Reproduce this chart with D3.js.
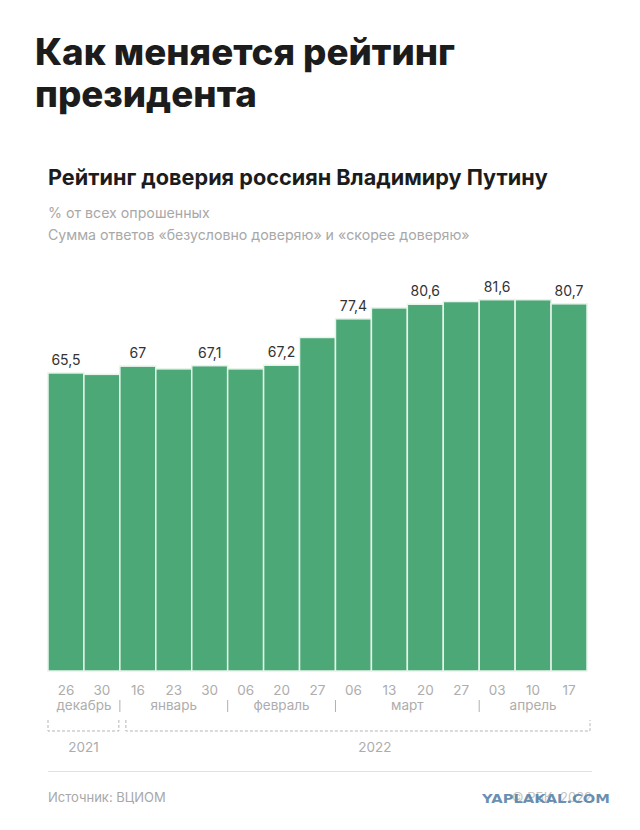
<!DOCTYPE html>
<html><head><meta charset="utf-8">
<script src="https://cdn.jsdelivr.net/npm/d3@7"></script>
<style>html,body{margin:0;padding:0;background:#fff;} svg{display:block;}</style>
</head><body>
<svg id="c" width="640" height="830"></svg>
<script>
// ---- data ----
const days = ["26","30","16","23","30","06","20","27","06","13","20","27","03","10","17"];
const months = ["декабрь","декабрь","январь","январь","январь","февраль","февраль","февраль","март","март","март","март","апрель","апрель","апрель"];
const years = ["2021","2021","2022","2022","2022","2022","2022","2022","2022","2022","2022","2022","2022","2022","2022"];
const values = [65.5, 65.2, 67.0, 66.4, 67.1, 66.4, 67.2, 73.3, 77.4, 79.8, 80.6, 81.2, 81.6, 81.6, 80.7];
const labeled = [true,false,true,false,true,false,true,false,true,false,true,false,true,false,true];

const svg = d3.select("#c");
const F = "Inter, 'Noto Sans', sans-serif";

function fitText(sel, w){
  const cur = sel.node().getComputedTextLength();
  const fs = parseFloat(sel.attr("font-size"));
  sel.attr("font-size", fs * w / cur);
}

// titles
const t1 = svg.append("text").attr("x",35).attr("y",65).attr("font-family",F).attr("font-weight",800)
  .attr("font-size",34).attr("fill","#1c1c1c").text("Как меняется рейтинг");
fitText(t1, 420);
const t2 = svg.append("text").attr("x",35).attr("y",107).attr("font-family",F).attr("font-weight",800)
  .attr("font-size",t1.attr("font-size")).attr("fill","#1c1c1c").text("президента");
const st = svg.append("text").attr("x",48).attr("y",185).attr("font-family",F).attr("font-weight",700)
  .attr("font-size",20).attr("fill","#1c1c1c").text("Рейтинг доверия россиян Владимиру Путину");
fitText(st, 500);
const s1 = svg.append("text").attr("x",48).attr("y",218).attr("font-family",F).attr("font-weight",400)
  .attr("font-size",13).attr("fill","#a8a8a8").text("% от всех опрошенных");
fitText(s1, 162);
const s2 = svg.append("text").attr("x",48).attr("y",240).attr("font-family",F).attr("font-weight",400)
  .attr("font-size",13).attr("fill","#a8a8a8").text("Сумма ответов «безусловно доверяю» и «скорее доверяю»");
fitText(s2, 422);

// scales
const idx = d3.range(values.length);
const x = d3.scaleBand().domain(idx).range([48, 587]).padding(0);
const y = d3.scaleLinear().domain([0, 100]).range([671, 216]);

// bars
svg.append("g").selectAll("rect").data(values).join("rect")
  .attr("x",(d,i)=>x(i)).attr("width",x.bandwidth())
  .attr("y",d=>y(d)).attr("height",d=>y(0)-y(d))
  .attr("fill","#4ca877").attr("stroke","#e6f4ea").attr("stroke-width",1.5);

// value labels
const fmt = v => d3.format("~g")(v).replace(".", ",");
svg.append("g").selectAll("text").data(idx.filter(i=>labeled[i])).join("text")
  .attr("x",i=>x(i)+x.bandwidth()/2).attr("y",i=>y(values[i])-8)
  .attr("text-anchor","middle").attr("font-family",F).attr("font-size",14).attr("fill","#333")
  .text(i=>fmt(values[i]));

// day ticks
svg.append("g").selectAll("text").data(idx).join("text")
  .attr("x",i=>x(i)+x.bandwidth()/2).attr("y",695)
  .attr("text-anchor","middle").attr("font-family",F).attr("font-size",13.5).attr("fill","#adadad")
  .text(i=>days[i]);

// month groups
function groups(arr){
  const g=[]; arr.forEach((m,i)=>{ if(!g.length||g[g.length-1].name!==m) g.push({name:m,start:i,end:i}); else g[g.length-1].end=i;});
  return g;
}
const mg = groups(months);
svg.append("g").selectAll("text").data(mg).join("text")
  .attr("x",d=>(x(d.start)+x(d.end)+x.bandwidth())/2).attr("y",710)
  .attr("text-anchor","middle").attr("font-family",F).attr("font-size",13.5).attr("fill","#adadad")
  .text(d=>d.name);
svg.append("g").selectAll("line").data(mg.slice(1)).join("line")
  .attr("x1",d=>x(d.start)).attr("x2",d=>x(d.start)).attr("y1",700).attr("y2",712)
  .attr("stroke","#b0b0b0").attr("stroke-width",1);

// year brackets
const yg = groups(years);
const yb = yg.map((d,k)=>({name:d.name,
  x1: k===0 ? x(d.start) : x(d.start)+6,
  x2: k===yg.length-1 ? x(d.end)+x.bandwidth()+3 : x(d.end)+x.bandwidth()-1}));
const gy = svg.append("g").attr("fill","none").attr("stroke","#b5b5b5").attr("stroke-width",1).attr("stroke-dasharray","3,2");
yb.forEach(d=>{
  gy.append("path").attr("d",`M${d.x1},720V731H${d.x2}V720`);
});
svg.append("g").selectAll("text").data(yb).join("text")
  .attr("x",(d,k)=>k===0?(d.x1+d.x2)/2:(d.x1+d.x2)/2+17).attr("y",752)
  .attr("text-anchor","middle").attr("font-family",F).attr("font-size",13.5).attr("fill","#adadad")
  .text(d=>d.name);

// footer
svg.append("line").attr("x1",48).attr("x2",592).attr("y1",771.5).attr("y2",771.5).attr("stroke","#e2e2e2").attr("stroke-width",1);
svg.append("text").attr("x",48).attr("y",802).attr("font-family",F).attr("font-size",13).attr("fill","#a8a8a8").text("Источник: ВЦИОМ");
svg.append("text").attr("x",592).attr("y",802).attr("text-anchor","end").attr("font-family",F).attr("font-size",13).attr("fill","#c4c4c4").text("© РБК, 2022");
svg.append("text").attr("x",482).attr("y",803).attr("font-family","'DejaVu Sans', sans-serif").attr("font-weight",700)
  .attr("font-size",13).attr("fill","#4f7ba3").attr("fill-opacity",0.85).attr("textLength",128).attr("lengthAdjust","spacingAndGlyphs").text("YAPLAKAL.COM");
</script>
</body></html>
